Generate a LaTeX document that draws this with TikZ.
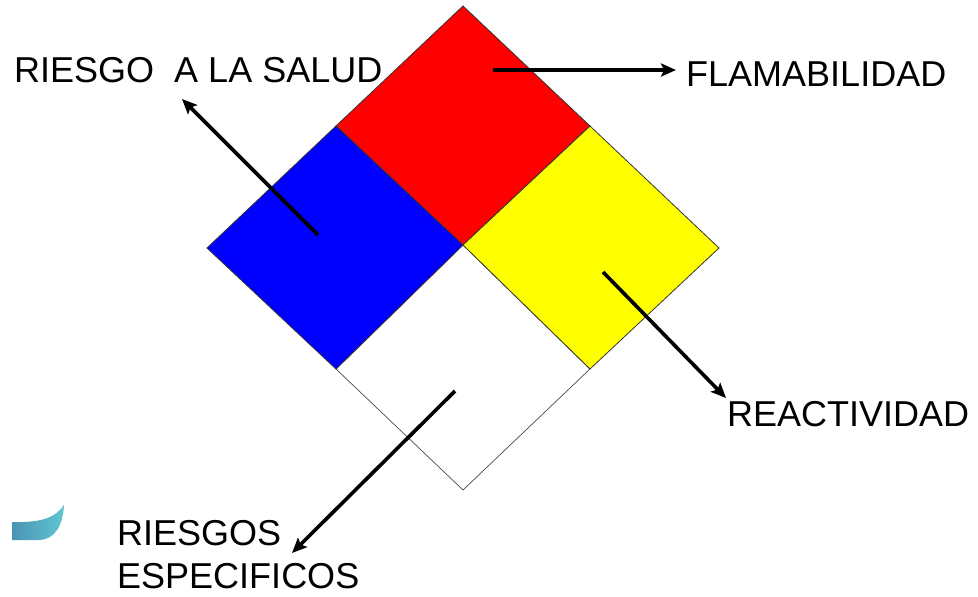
\documentclass[tikz,border=0pt]{standalone}
\usepackage{fontspec}
\setmainfont{Liberation Sans}
\usetikzlibrary{arrows.meta}
\definecolor{tealA}{HTML}{4A93B3}
\definecolor{tealB}{HTML}{62C6D4}
\tikzset{
  panel/.style={draw=black!80, line width=0.8pt, line join=miter},
  lbl/.style={inner sep=0pt, anchor=base west, font=\fontsize{36}{43}\selectfont},
  pointer/.style={line width=3.6pt, -{Stealth[length=15pt,width=13pt,inset=3pt]}},
}
\begin{document}
\begin{tikzpicture}[x=1pt,y=-1pt]
\useasboundingbox (0,0) rectangle (978,597);
% diamond corners
\coordinate (T) at (463,6);
\coordinate (L) at (207,248);
\coordinate (R) at (719,248);
\coordinate (B) at (463,490);
\coordinate (C) at (463,245);
\coordinate (TL) at (336,126);
\coordinate (TR) at (590,126);
\coordinate (BL) at (336,369);
\coordinate (BR) at (590,369);
% panels
\fill[white] (C) -- (BR) -- (B) -- (BL) -- cycle;
\draw[panel, draw=black!70, line width=0.7pt] (C) -- (BR) -- (B) -- (BL) -- cycle;
\draw[panel, fill={rgb,255:red,255;green,0;blue,0}] (T) -- (TR) -- (C) -- (TL) -- cycle;
\draw[panel, fill={rgb,255:red,0;green,0;blue,255}] (TL) -- (C) -- (BL) -- (L) -- cycle;
\draw[panel, fill={rgb,255:red,255;green,255;blue,0}] (TR) -- (R) -- (BR) -- (C) -- cycle;
% labels
\node[lbl] (salud) at (14,82) {RIESGO\ \ A LA SALUD};
\node[lbl] (flam) at (686,86) {FLAMABILIDAD};
\node[lbl] (react) at (727,426) {REACTIVIDAD};
\node[lbl, align=left, anchor=north west] (esp) at (117,520) {RIESGOS\\ESPECIFICOS};
% arrows
\coordinate (s1) at (318,235); \coordinate (e1) at (182,99);
\coordinate (s2) at (493,70);  \coordinate (e2) at (676,70);
\coordinate (s3) at (603,272); \coordinate (e3) at (726,398);
\coordinate (s4) at (455,391); \coordinate (e4) at (292,553);
\draw[pointer] (s1) -- (e1);
\draw[pointer] (s2) -- (e2);
\draw[pointer] (s3) -- (e3);
\draw[pointer] (s4) -- (e4);
% decorative teal swoosh
\shade[left color=tealA, right color=tealB]
  (12,522) .. controls (42,523) and (56,517) .. (64,505)
  .. controls (63,524) and (56,540) .. (38,540) -- (12,540) -- cycle;
\end{tikzpicture}
\end{document}
